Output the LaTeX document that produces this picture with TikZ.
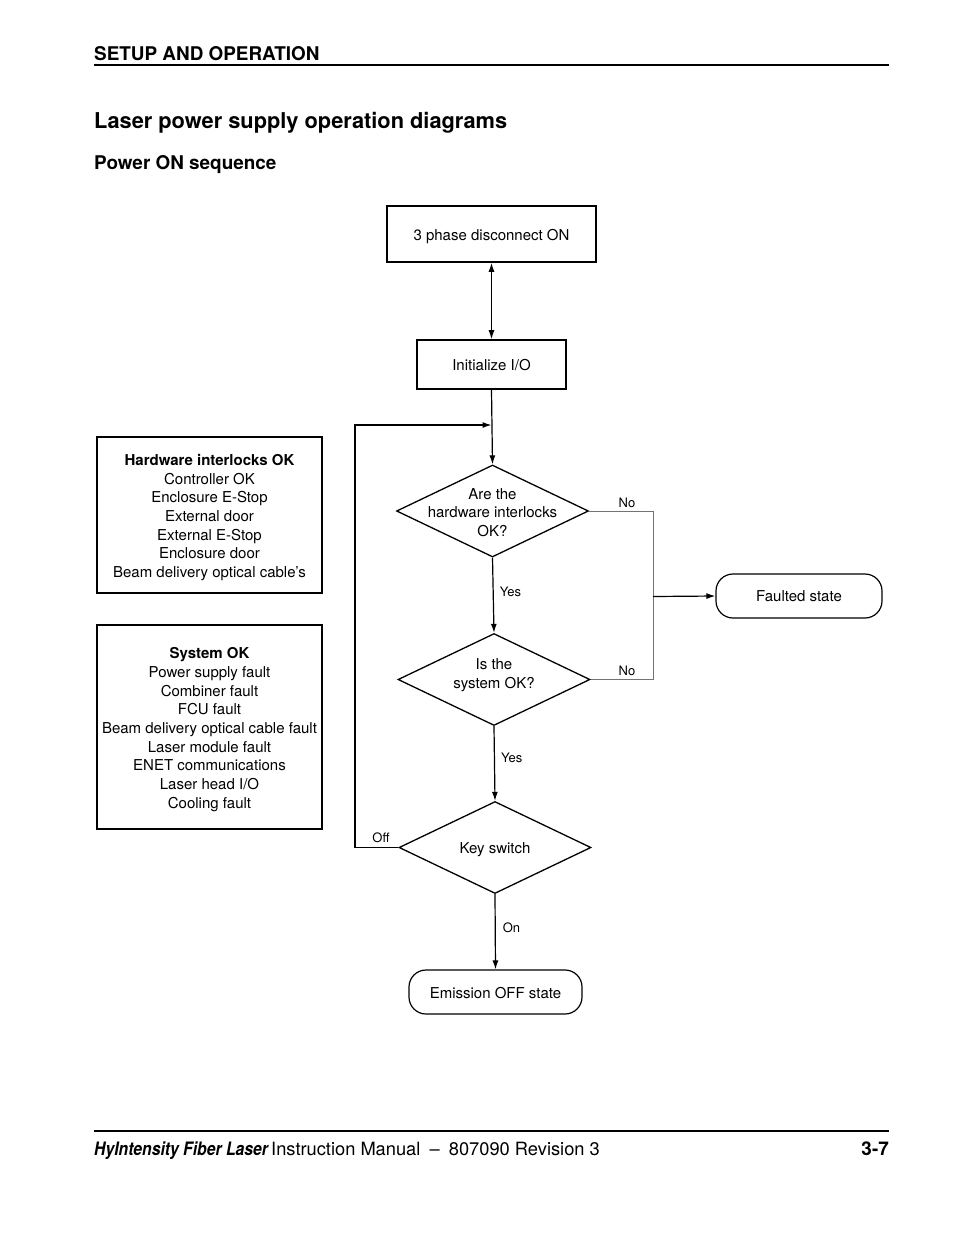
\documentclass[tikz,border=0pt]{standalone}
\usepackage{fontspec}
\setmainfont{TeX Gyre Heros}
\newfontfamily\condfont[FakeStretch=0.85]{TeX Gyre Heros}
\usetikzlibrary{shapes.geometric,arrows.meta}
\begin{document}
\begin{tikzpicture}[x=1pt,y=-1pt,
  txt/.style={font=\fontsize{15}{18.7}\selectfont, align=center, inner sep=0pt},
  lbl/.style={font=\fontsize{13}{15}\selectfont, inner sep=0pt},
  sqbox/.style={draw, line width=1.6pt, inner sep=0pt},
  rndbox/.style={draw, line width=1.2pt, rounded corners=17pt, inner sep=0pt},
  dia/.style={draw, diamond, line width=1.3pt, inner sep=0pt, minimum width=192pt, minimum height=92pt},
  conn/.style={line width=1.2pt, -{Latex[length=9pt,width=6pt]}},
  grayconn/.style={line width=0.9pt, draw=black!55}
]
\useasboundingbox[fill=white] (0,0) rectangle (954,1235);

% header
\node[anchor=base west, inner sep=0pt, font=\fontsize{18.9}{20}\selectfont\bfseries] (hdr) at (94,60) {SETUP AND OPERATION};
\coordinate (hr1) at (94,65); \coordinate (hr2) at (889,65);
\draw[line width=1.2pt] (hr1) -- (hr2);
\node[anchor=base west, inner sep=0pt, font=\fontsize{21.8}{24}\selectfont\bfseries] (title) at (94,128) {Laser power supply operation diagrams};
\node[anchor=base west, inner sep=0pt, font=\fontsize{18.9}{20}\selectfont\bfseries] (sub) at (94,169) {Power ON sequence};

% flow boxes
\node[sqbox, minimum width=209pt, minimum height=56pt] (disc) at (491.5,234) {};
\node[txt] (disct) at (491.5,236.5) {3 phase disconnect ON};
\node[sqbox, minimum width=149pt, minimum height=49pt] (init) at (491.5,364.5) {};
\node[txt] (initt) at (491.5,365) {Initialize I/O};
\node[dia] (d1) at (492.5,511) {};
\node[txt] (d1t) at (492.5,512.5) {Are the\\hardware interlocks\\OK?};
\node[dia] (d2) at (494,679.5) {};
\node[txt] (d2t) at (494,675) {Is the\\system OK?};
\node[dia] (d3) at (495,847.5) {};
\node[txt] (d3t) at (495,850) {Key switch};
\node[rndbox, minimum width=166pt, minimum height=44pt] (fault) at (799,596) {};
\node[txt] (faultt) at (799,596.5) {Faulted state};
\node[rndbox, minimum width=173pt, minimum height=44pt] (emis) at (495.5,992) {};
\node[txt] (emist) at (495.5,993) {Emission OFF state};

% info boxes
\node[sqbox, line width=1.1pt, minimum width=225pt, minimum height=156pt] (hw) at (209.5,515) {};
\node[txt] (hwt) at (209.5,517.5) {\textbf{Hardware interlocks OK}\\Controller OK\\Enclosure E-Stop\\External door\\External E-Stop\\Enclosure door\\Beam delivery optical cable’s};
\node[sqbox, line width=1.1pt, minimum width=225pt, minimum height=204pt] (sys) at (209.5,727) {};
\node[txt] (syst) at (209.5,729.5) {\textbf{System OK}\\Power supply fault\\Combiner fault\\FCU fault\\Beam delivery optical cable fault\\Laser module fault\\ENET communications\\Laser head I/O\\Cooling fault};

% connectors
\draw[line width=1.2pt, {Latex[length=9pt,width=6pt]}-{Latex[length=9pt,width=6pt]}] (disc.south) -- (init.north);
\draw[conn] (init.south) -- (d1.north);
\draw[conn] (d1.south) -- node[lbl, right=6pt, pos=0.45] (yes1) {Yes} (d2.north);
\draw[conn] (d2.south) -- node[lbl, right=6pt, pos=0.43] (yes2) {Yes} (d3.north);
\draw[conn] (d3.south) -- node[lbl, right=7pt, pos=0.45] (on) {On} (emis.north);

\coordinate (oc1) at (355,847.5);
\coordinate (oc2) at (355,425);
\coordinate (join) at (491.5,425);
\draw[conn] (d3.west) -- (oc1) -- (oc2) -- (join);
\node[lbl, anchor=south] (off) at (381,843) {Off};

\coordinate (n1) at (653,511);
\coordinate (n2) at (653,679.5);
\coordinate (n3) at (653,596.5);
\draw[grayconn] (d1.east) -- (n1) -- (n2) -- (d2.east);
\draw[conn] (n3) -- (fault.west);
\node[lbl, anchor=south] (no1) at (627,508) {No};
\node[lbl, anchor=south] (no2) at (627,676) {No};

% footer
\coordinate (fr1) at (94,1131); \coordinate (fr2) at (889,1131);
\draw[line width=2pt] (fr1) -- (fr2);
\node[anchor=base west, inner sep=0pt, font=\fontsize{18.5}{20}\selectfont\condfont\bfseries\itshape] (brand) at (94,1155) {HyIntensity Fiber Laser};
\node[anchor=base west, inner sep=0pt, font=\fontsize{18.28}{20}\selectfont] (man) at (271,1155) {Instruction Manual\enspace–\enspace807090 Revision 3};
\node[anchor=base east, inner sep=0pt, font=\fontsize{18.9}{20}\selectfont\bfseries] (pg) at (889,1155) {3-7};
\end{tikzpicture}
\end{document}
